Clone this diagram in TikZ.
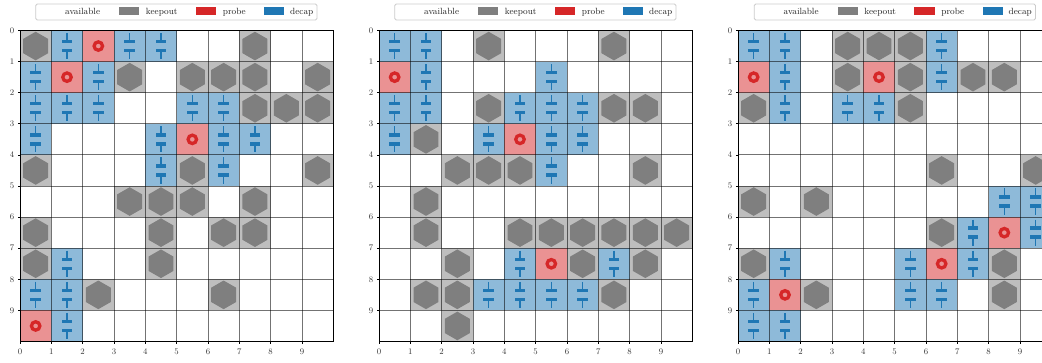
\documentclass[tikz,border=0pt]{standalone}
\definecolor{keepgray}{HTML}{7F7F7F}
\definecolor{probered}{HTML}{D62728}
\definecolor{decapblue}{HTML}{1F77B4}
\tikzset{
  keepcell/.style={fill=keepgray, fill opacity=0.5},
  probecell/.style={fill=probered, fill opacity=0.5},
  decapcell/.style={fill=decapblue, fill opacity=0.5},
  gridline/.style={black, opacity=0.55, line width=0.9pt},
  spine/.style={black, line width=0.8pt},
  ticklabel/.style={inner sep=0pt, text=black!80, font=\fontsize{8.5}{10}\selectfont},
  legendlabel/.style={inner sep=0pt, anchor=base west, text=black!85, font=\fontsize{9}{11}\selectfont}
}
% one cell of each kind
\newcommand{\keepout}[2]{
  \fill[keepcell] (#1,#2) rectangle ++(1,1);
  \fill[keepgray] (#1+.5,#2+.5) +(90:.46) -- +(150:.46) -- +(210:.46) -- +(270:.46) -- +(330:.46) -- +(30:.46) -- cycle;
}
\newcommand{\probe}[2]{
  \fill[probecell] (#1,#2) rectangle ++(1,1);
  \draw[probered, line width=3.3pt] (#1+.5,#2+.5) circle (.135);
}
\newcommand{\decap}[2]{
  \fill[decapcell] (#1,#2) rectangle ++(1,1);
  \fill[decapblue] (#1+.33,#2+.30) rectangle (#1+.67,#2+.41);
  \fill[decapblue] (#1+.33,#2+.59) rectangle (#1+.67,#2+.70);
  \draw[decapblue, line width=1.2pt] (#1+.5,#2+.08) -- (#1+.5,#2+.30);
  \draw[decapblue, line width=1.2pt] (#1+.5,#2+.70) -- (#1+.5,#2+.92);
}
% grid, ticks and labels of one board
\newcommand{\boardaxes}[1]{
  \foreach \i in {1,...,9} {
    \draw[gridline] (\i,0) -- (\i,10);
    \draw[gridline] (0,\i) -- (10,\i);
  }
  \draw[spine] (0,0) rectangle (10,10);
  \foreach \i in {0,...,9} {
    \draw[spine] (\i,10) -- ++(0,.07);
    \draw[spine] (0,\i) -- ++(-.07,0);
    \node[ticklabel] (#1x\i) at (\i,10.32) {\i};
    \node[ticklabel] (#1y\i) at (-.25,\i) {\i};
  }
}
% legend strip, placed from its left edge
\newcommand{\boardlegend}[2]{
  \begin{scope}[shift={(#2,0)}]
    \draw[black!20, fill=white, line width=0.8pt, rounded corners=1.5pt] (35.7,4) rectangle (317,20);
    \node[legendlabel] (#1avail) at (65,14.6) {available};
    \fill[keepgray] (119,7.4) rectangle (139,15);
    \node[legendlabel] (#1keep) at (145.7,14.6) {keepout};
    \fill[probered] (195.7,7.4) rectangle (216,15);
    \node[legendlabel] (#1probe) at (222.7,14.6) {probe};
    \fill[decapblue] (264,7.4) rectangle (284,15);
    \node[legendlabel] (#1decap) at (290,14.6) {decap};
  \end{scope}
}

\begin{document}
\begin{tikzpicture}[x=1pt, y=-1pt]

\clip (0,0) rectangle (1042,362);
\fill[white] (0,0) rectangle (1042,362);

% Left board
\boardlegend{a}{0}
\begin{scope}[shift={(20,30.5)}, x=31.33pt, y=-31.1pt]
    \foreach \c/\r in {0/0,7/0, 3/1,5/1,6/1,7/1,9/1, 7/2,8/2,9/2, 0/4,5/4,9/4, 3/5,4/5,5/5,7/5,
                       0/6,4/6,6/6,7/6, 0/7,4/7, 2/8,6/8} {
        \keepout{\c}{\r}
    }
    \foreach \c/\r in {1/0,3/0,4/0, 0/1,2/1, 0/2,1/2,2/2,5/2,6/2, 0/3,4/3,6/3,7/3, 4/4,6/4,
                       1/7, 0/8,1/8, 1/9} {
        \decap{\c}{\r}
    }
    \foreach \c/\r in {2/0, 1/1, 5/3, 0/9} {
        \probe{\c}{\r}
    }
    \boardaxes{a}
\end{scope}

% Middle board
\boardlegend{b}{359}
\begin{scope}[shift={(379,30.5)}, x=31.33pt, y=-31.1pt]
    \foreach \c/\r in {3/0,7/0, 3/2,7/2,8/2, 1/3, 2/4,3/4,4/4,8/4, 1/5,
                       1/6,4/6,5/6,6/6,7/6,8/6,9/6, 2/7,6/7,8/7, 1/8,2/8,7/8, 2/9} {
        \keepout{\c}{\r}
    }
    \foreach \c/\r in {0/0,1/0, 1/1,5/1, 0/2,1/2,4/2,5/2,6/2, 0/3,3/3,5/3,6/3, 5/4,
                       4/7,7/7, 3/8,4/8,5/8,6/8} {
        \decap{\c}{\r}
    }
    \foreach \c/\r in {0/1, 4/3, 5/7} {
        \probe{\c}{\r}
    }
    \boardaxes{b}
\end{scope}

% Right board, cut off by the page edge
\boardlegend{c}{718.5}
\begin{scope}[shift={(738,30.5)}, x=31.33pt, y=-31.1pt]
    \foreach \c/\r in {3/0,4/0,5/0, 3/1,5/1,7/1,8/1, 0/2,5/2, 6/4,9/4, 0/5,2/5,
                       6/6, 0/7,8/7, 2/8,8/8} {
        \keepout{\c}{\r}
    }
    \foreach \c/\r in {0/0,1/0,6/0, 1/1,6/1, 1/2,3/2,4/2, 8/5,9/5, 7/6,9/6,
                       1/7,5/7,7/7, 0/8,5/8,6/8, 0/9,1/9} {
        \decap{\c}{\r}
    }
    \foreach \c/\r in {0/1,4/1, 8/6, 6/7, 1/8} {
        \probe{\c}{\r}
    }
    \boardaxes{c}
\end{scope}

\end{tikzpicture}
\end{document}
